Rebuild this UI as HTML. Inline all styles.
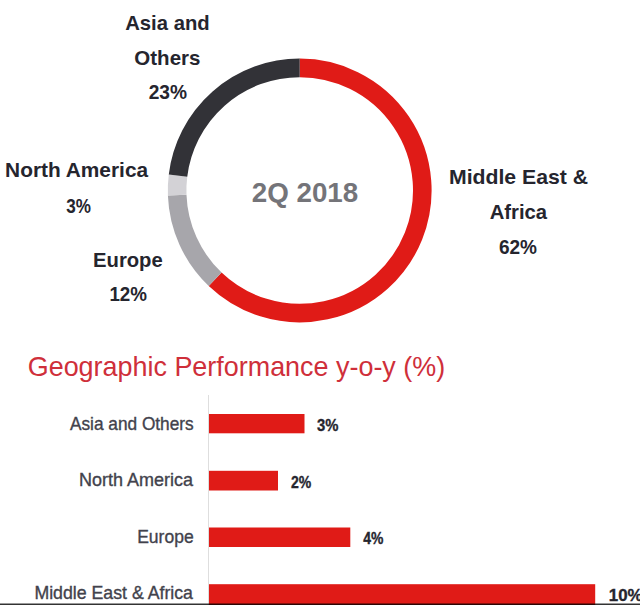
<!DOCTYPE html>
<html><head><meta charset="utf-8"><style>
html,body{margin:0;padding:0;background:#fff;}
body{width:640px;height:605px;overflow:hidden;position:relative;}
svg{position:absolute;left:0;top:0;display:block;}
text{font-family:"Liberation Sans",sans-serif;}
</style></head><body>
<svg width="640" height="605" viewBox="0 0 640 605">
<rect width="640" height="605" fill="#fff"/>
<path d="M299.70 67.90A122.6 122.6 0 1 1 215.15 279.28" stroke="#e01b17" stroke-width="18.6" fill="none"/>
<path d="M215.15 279.28A122.6 122.6 0 0 1 177.19 195.21" stroke="#a7a6ab" stroke-width="18.6" fill="none"/>
<path d="M177.19 195.21A122.6 122.6 0 0 1 178.01 175.56" stroke="#d3d2d6" stroke-width="18.6" fill="none"/>
<path d="M178.01 175.56A122.6 122.6 0 0 1 299.70 67.90" stroke="#323237" stroke-width="18.6" fill="none"/>
<line x1="208.5" y1="395" x2="208.5" y2="605" stroke="#dedede" stroke-width="1"/>
<rect x="209" y="414" width="95.5" height="19.3" fill="#e01b17"/>
<rect x="209" y="470.8" width="69" height="19.7" fill="#e01b17"/>
<rect x="209" y="527.5" width="141.3" height="19.5" fill="#e01b17"/>
<rect x="209" y="584.2" width="386.2" height="20.8" fill="#e01b17"/>
<text x="167.44" y="30.00" font-size="20.60" font-weight="bold" fill="#25252e" text-anchor="middle" textLength="84.43" lengthAdjust="spacingAndGlyphs">Asia and</text>
<text x="167.38" y="64.70" font-size="20.60" font-weight="bold" fill="#25252e" text-anchor="middle" textLength="66.04" lengthAdjust="spacingAndGlyphs">Others</text>
<text x="167.84" y="99.40" font-size="20.60" font-weight="bold" fill="#25252e" text-anchor="middle" textLength="38.35" lengthAdjust="spacingAndGlyphs">23%</text>
<text x="76.62" y="177.20" font-size="20.60" font-weight="bold" fill="#25252e" text-anchor="middle" textLength="142.97" lengthAdjust="spacingAndGlyphs">North America</text>
<text x="78.54" y="212.70" font-size="20.60" font-weight="bold" fill="#25252e" text-anchor="middle" textLength="24.70" lengthAdjust="spacingAndGlyphs">3%</text>
<text x="127.90" y="266.60" font-size="20.60" font-weight="bold" fill="#25252e" text-anchor="middle" textLength="69.71" lengthAdjust="spacingAndGlyphs">Europe</text>
<text x="128.22" y="301.40" font-size="20.60" font-weight="bold" fill="#25252e" text-anchor="middle" textLength="37.61" lengthAdjust="spacingAndGlyphs">12%</text>
<text x="518.53" y="183.75" font-size="20.60" font-weight="bold" fill="#25252e" text-anchor="middle" textLength="139.12" lengthAdjust="spacingAndGlyphs">Middle East &amp;</text>
<text x="518.38" y="218.75" font-size="20.60" font-weight="bold" fill="#25252e" text-anchor="middle" textLength="57.38" lengthAdjust="spacingAndGlyphs">Africa</text>
<text x="518.01" y="253.75" font-size="20.60" font-weight="bold" fill="#25252e" text-anchor="middle" textLength="38.06" lengthAdjust="spacingAndGlyphs">62%</text>
<text x="305.00" y="201.50" font-size="27.00" font-weight="bold" fill="#747479" text-anchor="middle" textLength="106.51" lengthAdjust="spacingAndGlyphs">2Q 2018</text>
<text x="27.73" y="376.25" font-size="27.10" fill="#cf2f3a" text-anchor="start" textLength="417.46" lengthAdjust="spacingAndGlyphs">Geographic Performance y-o-y (%)</text>
<text x="193.73" y="429.50" font-size="18.20" fill="#42424c" stroke="#42424c" stroke-width="0.35" text-anchor="end" textLength="123.83" lengthAdjust="spacingAndGlyphs">Asia and Others</text>
<text x="193.01" y="486.25" font-size="18.20" fill="#42424c" stroke="#42424c" stroke-width="0.35" text-anchor="end" textLength="113.98" lengthAdjust="spacingAndGlyphs">North America</text>
<text x="193.65" y="542.75" font-size="18.20" fill="#42424c" stroke="#42424c" stroke-width="0.35" text-anchor="end" textLength="56.45" lengthAdjust="spacingAndGlyphs">Europe</text>
<text x="192.96" y="599.20" font-size="18.20" fill="#42424c" stroke="#42424c" stroke-width="0.35" text-anchor="end" textLength="158.57" lengthAdjust="spacingAndGlyphs">Middle East &amp; Africa</text>
<text x="317.01" y="431.25" font-size="17.30" font-weight="bold" fill="#25252e" stroke="#25252e" stroke-width="0.35" text-anchor="start" textLength="21.41" lengthAdjust="spacingAndGlyphs">3%</text>
<text x="291.03" y="487.50" font-size="17.30" font-weight="bold" fill="#25252e" stroke="#25252e" stroke-width="0.35" text-anchor="start" textLength="20.29" lengthAdjust="spacingAndGlyphs">2%</text>
<text x="363.20" y="543.90" font-size="17.30" font-weight="bold" fill="#25252e" stroke="#25252e" stroke-width="0.35" text-anchor="start" textLength="20.15" lengthAdjust="spacingAndGlyphs">4%</text>
<text x="608.85" y="601.25" font-size="17.30" font-weight="bold" fill="#25252e" stroke="#25252e" stroke-width="0.35" text-anchor="start" textLength="33.79" lengthAdjust="spacingAndGlyphs">10%</text>
<rect x="0" y="603.5" width="640" height="1.5" fill="#000" fill-opacity="0.8"/>
</svg>
</body></html>
